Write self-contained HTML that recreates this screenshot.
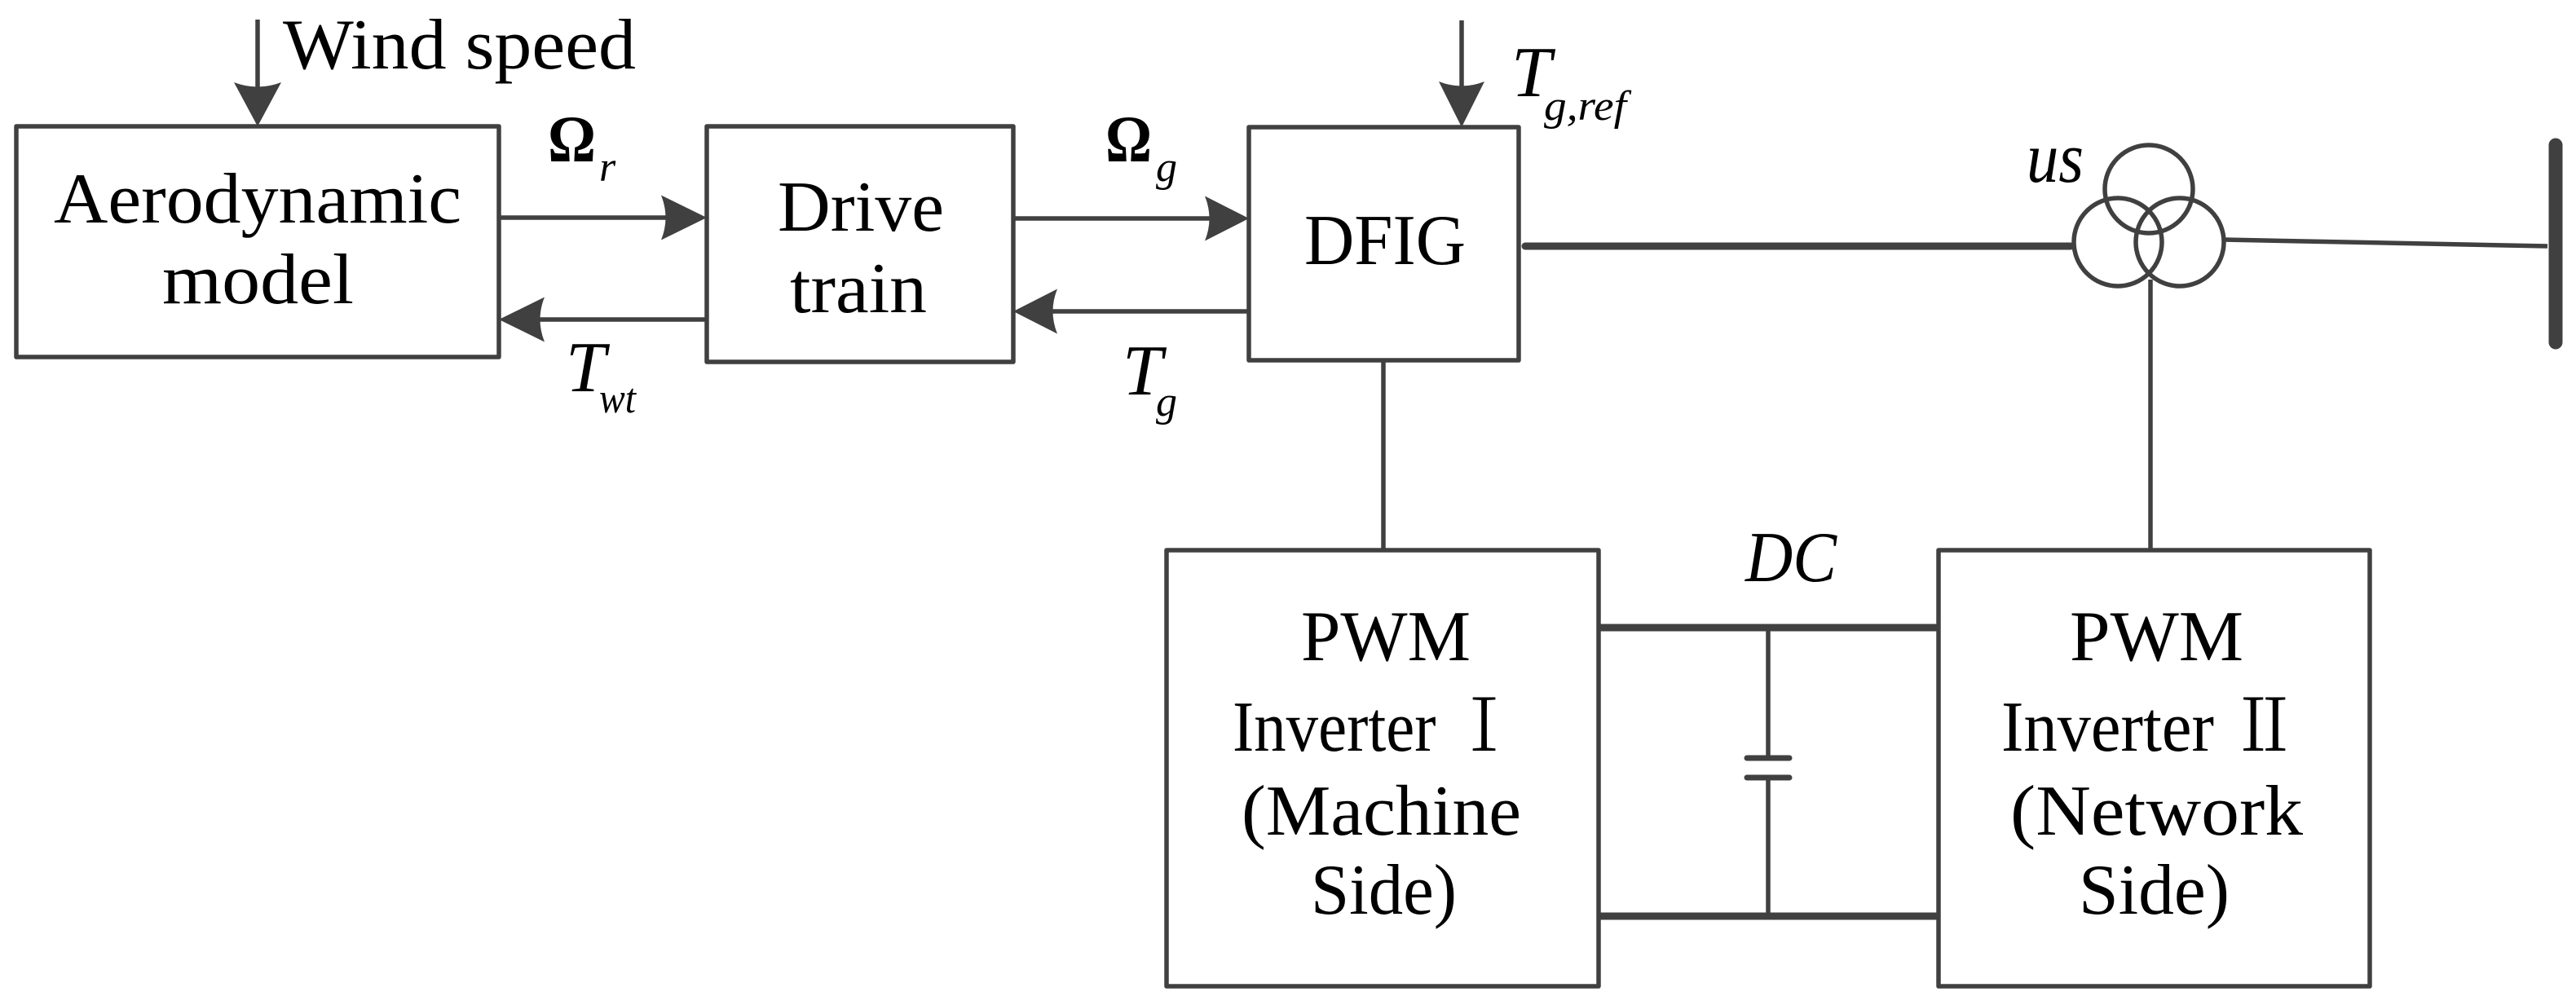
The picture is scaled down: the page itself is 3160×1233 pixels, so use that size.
<!DOCTYPE html>
<html><head><meta charset="utf-8"><style>
html,body{margin:0;padding:0;background:#fff;}
svg{display:block;}
text{font-family:"Liberation Serif","Noto Serif CJK SC",serif;fill:#000;}
.it{font-style:italic;}
</style></head><body>
<svg width="3160" height="1233" viewBox="0 0 3160 1233" xmlns="http://www.w3.org/2000/svg">
<g fill="none" stroke="#404040" stroke-width="5.5" stroke-linejoin="round">
  <rect x="20" y="155" width="592" height="283"/>
  <rect x="867" y="155" width="376" height="289"/>
  <rect x="1532" y="156" width="331" height="286"/>
  <rect x="1431" y="675" width="530" height="535"/>
  <rect x="2378" y="675" width="529" height="535"/>
  <line x1="316" y1="24" x2="316" y2="120"/>
  <line x1="1793" y1="25" x2="1793" y2="120"/>
  <line x1="612" y1="267" x2="830" y2="267"/>
  <line x1="867" y1="392" x2="650" y2="392"/>
  <line x1="1243" y1="268" x2="1495" y2="268"/>
  <line x1="1532" y1="382" x2="1280" y2="382"/>
  <line x1="1697" y1="442" x2="1697" y2="675"/>
  <line x1="2638" y1="343" x2="2638" y2="675"/>
  <circle cx="2636" cy="232" r="54"/>
  <circle cx="2598" cy="297" r="54"/>
  <circle cx="2674" cy="297" r="54"/>
  <line x1="2728" y1="294" x2="3125" y2="302"/>
  <line x1="2169" y1="770" x2="2169" y2="930"/>
  <line x1="2169" y1="954" x2="2169" y2="1124"/>
</g>
<g stroke="#404040" stroke-linecap="round" fill="none">
  <line x1="1871" y1="302" x2="2540" y2="302" stroke-width="9"/>
  <line x1="3135" y1="178" x2="3135" y2="420" stroke-width="17"/>
  <line x1="1961" y1="770" x2="2378" y2="770" stroke-width="9" stroke-linecap="butt"/>
  <line x1="1961" y1="1124" x2="2378" y2="1124" stroke-width="9" stroke-linecap="butt"/>
  <line x1="2143" y1="930" x2="2195" y2="930" stroke-width="7"/>
  <line x1="2143" y1="954" x2="2195" y2="954" stroke-width="7"/>
</g>
<g fill="#404040">
  <path d="M867,267 L811,239.5 Q822,267 811,294.5 Z"/>
  <path d="M612,392 L668,364.5 Q657,392 668,419.5 Z"/>
  <path d="M1532,268 L1478,240.5 Q1489,268 1478,295.5 Z"/>
  <path d="M1243,382 L1297,354.5 Q1286,382 1297,409.5 Z"/>
  <path d="M316,155 L287,101 Q316,112 345,101 Z"/>
  <path d="M1793,156 L1765,100 Q1793,111 1821,100 Z"/>
</g>
<g font-size="88">
  <text x="347" y="84" textLength="433" lengthAdjust="spacingAndGlyphs">Wind speed</text>
  <text x="66" y="273" textLength="500" lengthAdjust="spacingAndGlyphs">Aerodynamic</text>
  <text x="199" y="372" textLength="235" lengthAdjust="spacingAndGlyphs">model</text>
  <text x="954" y="283" textLength="204" lengthAdjust="spacingAndGlyphs">Drive</text>
  <text x="969" y="383" textLength="168" lengthAdjust="spacingAndGlyphs">train</text>
  <text x="1600" y="324" textLength="198" lengthAdjust="spacingAndGlyphs">DFIG</text>
  <text x="1596" y="810" textLength="208" lengthAdjust="spacingAndGlyphs">PWM</text>
  <text x="1512" y="921" textLength="348" lengthAdjust="spacingAndGlyphs">Inverter Ⅰ</text>
  <text x="1523" y="1024" textLength="343" lengthAdjust="spacingAndGlyphs">(Machine</text>
  <text x="1608" y="1121" textLength="179" lengthAdjust="spacingAndGlyphs">Side)</text>
  <text x="2539" y="810" textLength="213" lengthAdjust="spacingAndGlyphs">PWM</text>
  <text x="2455" y="921" textLength="364" lengthAdjust="spacingAndGlyphs">Inverter Ⅱ</text>
  <text x="2466" y="1024" textLength="359" lengthAdjust="spacingAndGlyphs">(Network</text>
  <text x="2550" y="1121" textLength="185" lengthAdjust="spacingAndGlyphs">Side)</text>
  <text class="it" x="2141" y="713" textLength="112" lengthAdjust="spacingAndGlyphs">DC</text>
  <text class="it" x="2486" y="223" textLength="70" lengthAdjust="spacingAndGlyphs">us</text>
  <text class="it" x="694" y="480">T</text>
  <text class="it" x="1377" y="484">T</text>
  <text class="it" x="1854" y="118">T</text>
  <text x="672" y="198" font-weight="bold" font-size="82" textLength="59" lengthAdjust="spacingAndGlyphs">Ω</text>
  <text x="1356" y="198" font-weight="bold" font-size="82" textLength="57" lengthAdjust="spacingAndGlyphs">Ω</text>
</g>
<g font-size="52" class="it">
  <text class="it" x="735" y="222">r</text>
  <text class="it" x="735" y="506" textLength="45" lengthAdjust="spacingAndGlyphs">wt</text>
  <text class="it" x="1418" y="222">g</text>
  <text class="it" x="1418" y="510">g</text>
  <text class="it" x="1894" y="147" textLength="101" lengthAdjust="spacingAndGlyphs">g,ref</text>
</g>
</svg>
</body></html>
